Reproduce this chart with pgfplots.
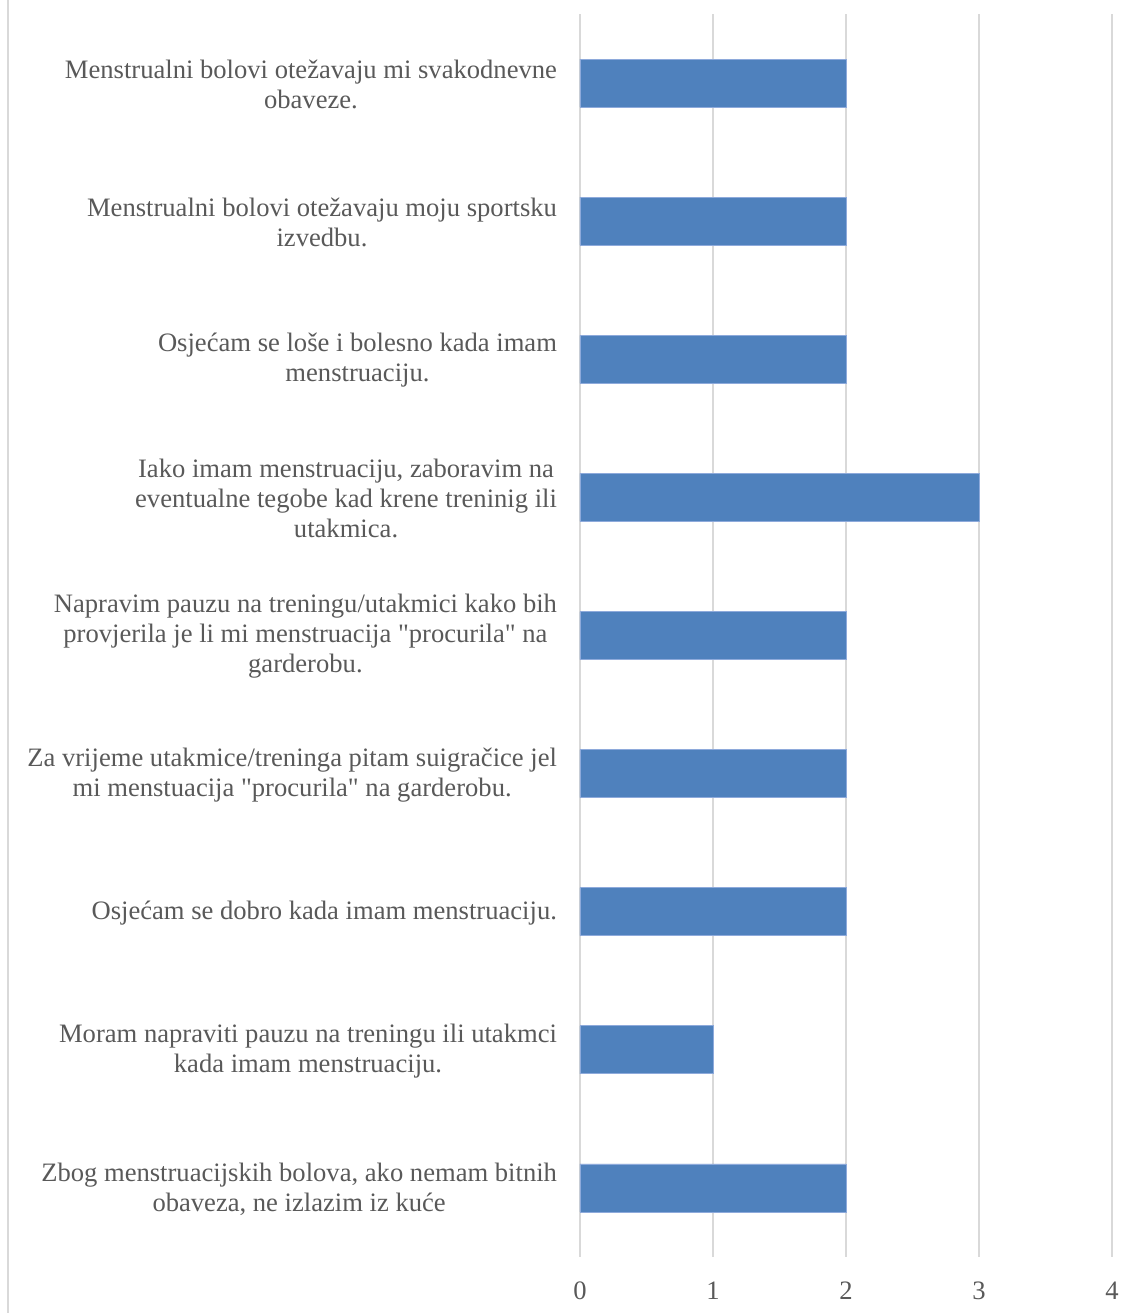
\documentclass[border=0pt]{standalone}
\usepackage{fontspec}
\setmainfont{Liberation Serif}[Ligatures=TeXOff]
\usepackage{pgfplots}
\pgfplotsset{compat=1.18}
\definecolor{barblue}{HTML}{4F81BD}
\definecolor{baredge}{HTML}{8EAADB}
\definecolor{gridgray}{HTML}{D9D9D9}
\definecolor{txtgray}{HTML}{595959}

\begin{document}
\begin{tikzpicture}
% 1 px of the reference = 0.5pt
\useasboundingbox (0,0) rectangle (567pt,656.5pt);
\draw[gridgray, line width=0.8pt] (4pt,0) -- (4pt,656.5pt);
\begin{axis}[
    at={(290pt,28pt)}, anchor=south west,
    scale only axis,
    width=266pt, height=621.5pt,
    xbar, bar width=24pt,
    xmin=0, xmax=4,
    ymin=0.5, ymax=9.5,
    y dir=reverse,
    xtick={0,1,2,3,4},
    ytick={1,...,9},
    yticklabels={
      {Menstrualni bolovi otežavaju mi svakodnevne\\obaveze.},
      {Menstrualni bolovi otežavaju moju sportsku\\izvedbu.},
      {Osjećam se loše i bolesno kada imam\\menstruaciju.},
      {Iako imam menstruaciju, zaboravim na\\eventualne tegobe kad krene treninig ili\\utakmica.},
      {Napravim pauzu na treningu/utakmici kako bih\\provjerila je li mi menstruacija "procurila" na\\garderobu.},
      {Za vrijeme utakmice/treninga pitam suigračice jel\\mi menstuacija "procurila" na garderobu.},
      {Osjećam se dobro kada imam menstruaciju.},
      {Moram napraviti pauzu na treningu ili utakmci\\kada imam menstruaciju.},
      {Zbog menstruacijskih bolova, ako nemam bitnih\\obaveza, ne izlazim iz kuće},
    },
    major tick length=0,
    axis line style={draw=none},
    xmajorgrids,
    major grid style={gridgray, line width=0.8pt},
    yticklabel style={align=center, font=\fontsize{13.3}{15}\selectfont,
      text=txtgray, xshift=-8pt, yshift=-0.5pt},
    xticklabel style={font=\fontsize{13.3}{15}\selectfont, text=txtgray,
      yshift=-9pt},
    /pgf/number format/assume math mode=true,
  ]
  \addplot[fill=barblue, draw=baredge, line width=0.4pt] coordinates {
    (2,1) (2,2) (2,3) (3,4) (2,5) (2,6) (2,7) (1,8) (2,9)
  };
\end{axis}
\end{tikzpicture}
\end{document}
